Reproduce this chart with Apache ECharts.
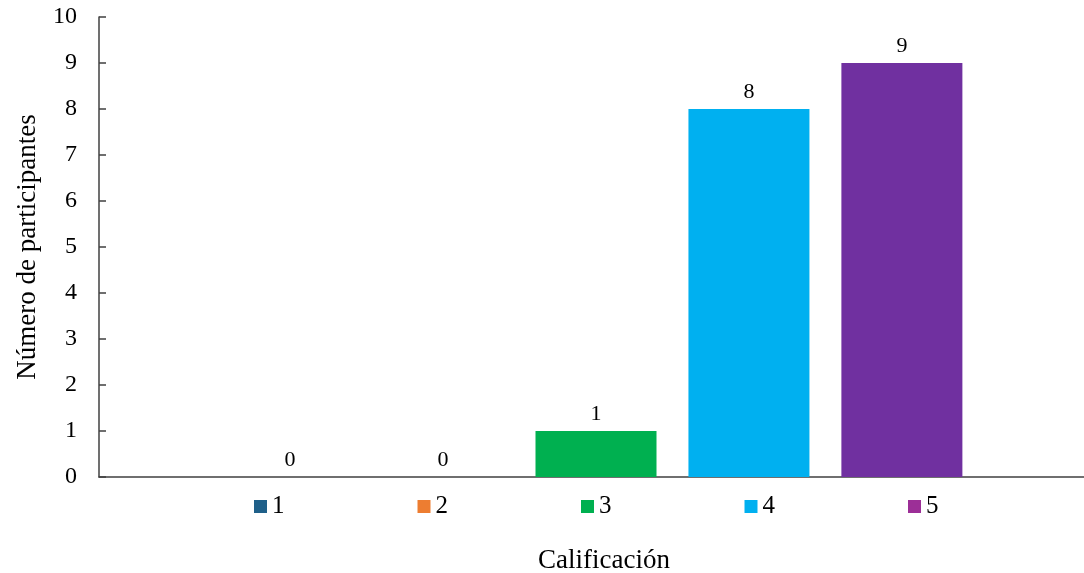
<!DOCTYPE html>
<html>
<head>
<meta charset="utf-8">
<script src="https://cdn.jsdelivr.net/npm/echarts@6/dist/echarts.min.js"></script>
<style>html,body{margin:0;padding:0;background:#fff}#c{width:1084px;height:573px}</style>
</head>
<body>
<div id="c"></div>
<script>
const categories = [''];
const seriesNames = ['1', '2', '3', '4', '5'];
const seriesValues = [[0], [0], [1], [8], [9]];
const seriesColors = ['#1F6089', '#ED7D31', '#00B050', '#00B0F0', '#7030A0'];
const legendColors = ['#1F6089', '#ED7D31', '#00B050', '#00B0F0', '#9C2F97'];
const yTicks = { min: 0, max: 10, interval: 1 };
const xTitle = 'Calificación';
const yTitle = 'Número de participantes';

const font = 'Liberation Serif, Times New Roman, serif';
const chart = echarts.init(document.getElementById('c'), null, { renderer: 'canvas' });
chart.setOption({
  animation: false,
  textStyle: { fontFamily: font, color: '#000' },
  grid: { left: 99, right: -9, top: 17, bottom: 96, containLabel: false, outerBoundsMode: 'none' },
  legend: {
    left: 249, top: 489,
    itemWidth: 13, itemHeight: 13, itemGap: 133, itemTextGap: 7,
    icon: 'rect',
    textStyle: { fontFamily: font, fontSize: 25, color: '#000' },
    data: seriesNames.map((n, i) => ({ name: n, itemStyle: { color: legendColors[i] } }))
  },
  xAxis: {
    type: 'category',
    data: categories,
    axisLine: { lineStyle: { color: '#404040', width: 1.5 } },
    axisTick: { show: false },
    axisLabel: { show: false },
    name: xTitle,
    nameLocation: 'middle',
    nameGap: 70,
    nameTextStyle: { fontFamily: font, fontSize: 27, color: '#000', padding: [0, 0, 0, 16] }
  },
  yAxis: {
    type: 'value',
    min: yTicks.min, max: yTicks.max, interval: yTicks.interval,
    axisLine: { show: true, lineStyle: { color: '#404040', width: 1.5 } },
    axisTick: { show: true, inside: true, length: 7, lineStyle: { color: '#404040', width: 1.5 } },
    splitLine: { show: false },
    axisLabel: { fontFamily: font, fontSize: 24, color: '#000', margin: 22 },
    name: yTitle,
    nameLocation: 'middle',
    nameGap: 58,
    nameTextStyle: { fontFamily: font, fontSize: 27, color: '#000' }
  },
  series: seriesNames.map((n, i) => ({
    name: n,
    type: 'bar',
    data: seriesValues[i],
    barWidth: 121,
    barGap: '26.4%',
    itemStyle: { color: seriesColors[i] },
    label: { show: true, position: 'top', distance: 6, fontFamily: font, fontSize: 22, color: '#000' }
  }))
});
</script>
</body>
</html>
